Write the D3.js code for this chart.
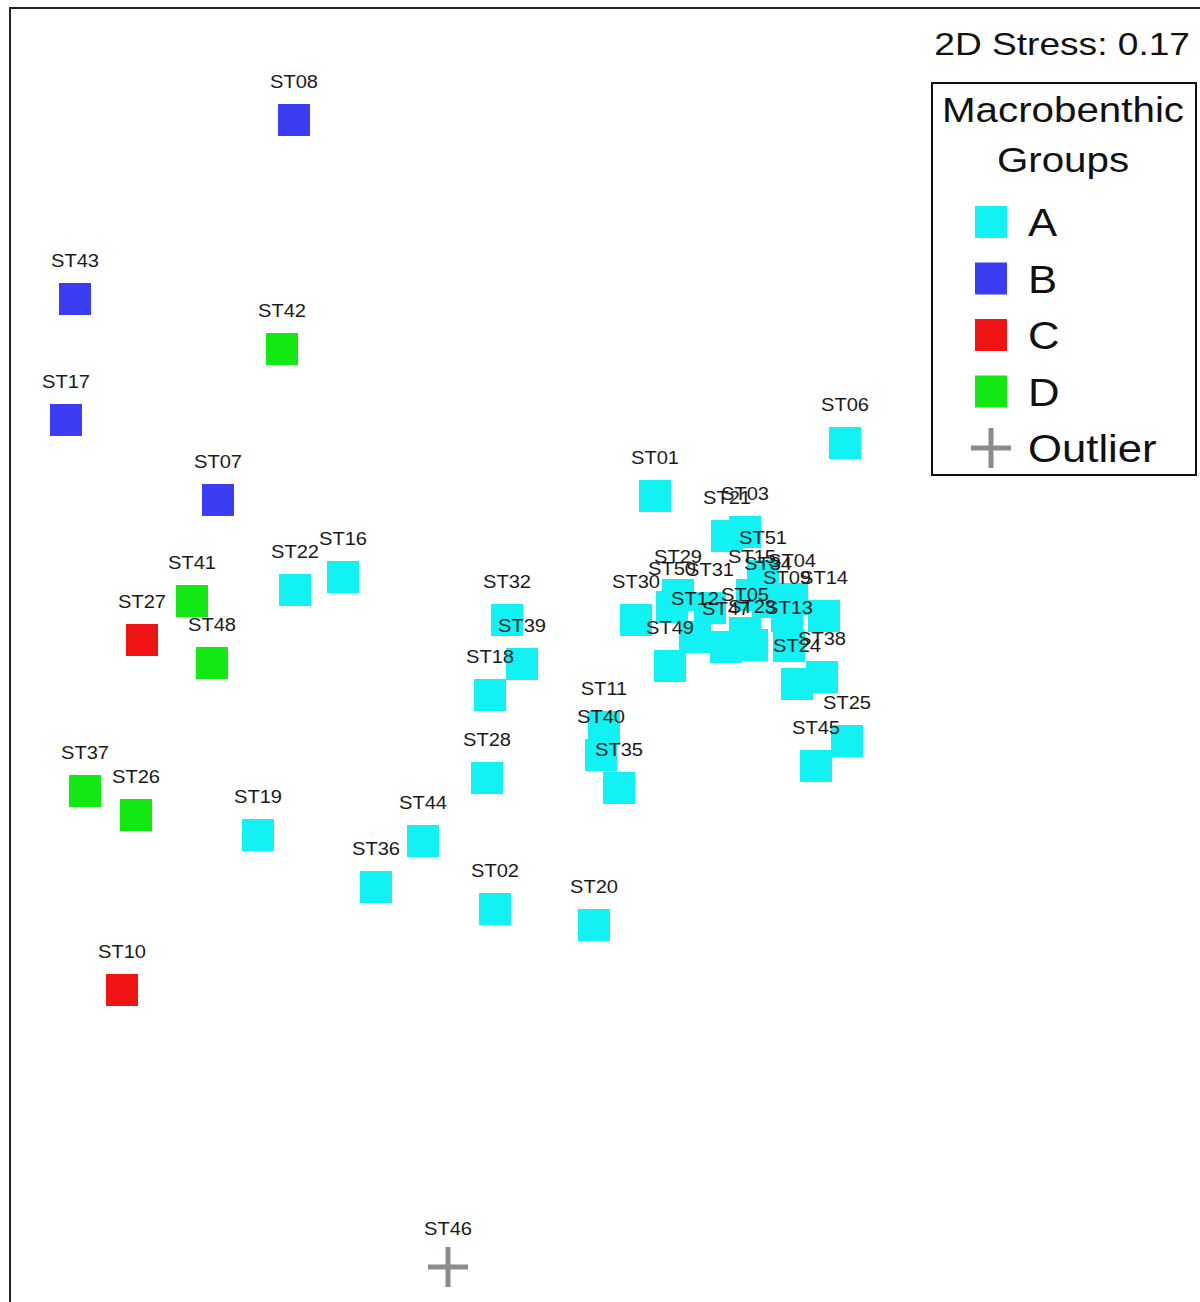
<!DOCTYPE html>
<html>
<head>
<meta charset="utf-8">
<script src="https://cdn.jsdelivr.net/npm/d3@7"></script>
<style>
  html, body { margin: 0; padding: 0; background: #fff; }
  svg { display: block; font-family: "Liberation Sans", Arial, sans-serif; }
</style>
</head>
<body>
<svg id="chart" width="1200" height="1302"></svg>
<script>
// nMDS ordination of macrobenthic stations (arbitrary MDS units)
const stations = ["ST08","ST43","ST17","ST07",
  "ST42","ST41","ST48","ST37","ST26",
  "ST27","ST10",
  "ST46",
  "ST06","ST01","ST22","ST16","ST32","ST39","ST18","ST28","ST19","ST44","ST36","ST02","ST20",
  "ST11","ST40","ST35","ST45","ST25","ST38","ST24","ST14","ST09","ST13","ST04","ST34","ST15",
  "ST51","ST21","ST03","ST29","ST50","ST31","ST30","ST12","ST05","ST47","ST23","ST49"];
const groups = ["B","B","B","B",
  "D","D","D","D","D",
  "C","C",
  "Outlier",
  "A","A","A","A","A","A","A","A","A","A","A","A","A",
  "A","A","A","A","A","A","A","A","A","A","A","A","A",
  "A","A","A","A","A","A","A","A","A","A","A","A"];
const mds1 = [-3.06,-5.25,-5.34,-3.82,
  -3.18,-4.08,-3.88,-5.15,-4.64,
  -4.58,-4.78,
  -1.52,
  2.45,0.55,-3.05,-2.57,-0.93,-0.78,-1.10,-1.13,-3.42,-1.77,-2.24,-1.05,-0.06,
  0.04,0.01,0.19,2.16,2.47,2.22,1.97,2.24,1.87,1.89,1.92,1.68,1.52,
  1.63,1.27,1.45,0.78,0.72,1.10,0.36,0.95,1.45,1.26,1.52,0.70];
const mds2 = [5.30,3.51,2.30,1.50,
  3.01,0.49,-0.13,-1.41,-1.65,
  0.10,-3.40,
  -6.17,
  2.07,1.54,0.60,0.73,0.30,-0.14,-0.45,-1.28,-1.85,-1.91,-2.37,-2.59,-2.75,
  -0.77,-1.05,-1.38,-1.16,-0.91,-0.27,-0.34,0.34,0.34,0.04,0.51,0.48,0.55,
  0.74,1.14,1.18,0.55,0.43,0.42,0.30,0.13,0.17,0.03,0.05,-0.16];

const legendGroups = ["A","B","C","D","Outlier"];
const groupColors = ["#12f2f2","#3c3cf2","#f01414","#12e812","#8c8c8c"];
const stressText = "2D Stress: 0.17";
const legendTitle = ["Macrobenthic","Groups"];

const points = stations.map((s, i) => ({ name: s, group: groups[i], x: mds1[i], y: mds2[i] }));

const svg = d3.select("#chart");
const x = d3.scaleLinear().domain([-6, 3]).range([0, 900]);
const y = d3.scaleLinear().domain([-7, 7]).range([1350, -50]);
const color = d3.scaleOrdinal().domain(legendGroups).range(groupColors);

const SQ = 32;

// plot frame
svg.append("rect")
  .attr("x", 10).attr("y", 8)
  .attr("width", 1200).attr("height", 1320)
  .attr("fill", "none").attr("stroke", "#222").attr("stroke-width", 2);

// station markers
const squares = points.filter(d => d.group !== "Outlier");
svg.append("g").selectAll("rect")
  .data(squares).join("rect")
  .attr("x", d => x(d.x) - SQ / 2)
  .attr("y", d => y(d.y) - SQ / 2)
  .attr("width", SQ).attr("height", SQ)
  .attr("fill", d => color(d.group));

const plus = points.filter(d => d.group === "Outlier");
const plusG = svg.append("g").selectAll("g").data(plus).join("g")
  .attr("transform", d => `translate(${x(d.x)},${y(d.y)})`);
plusG.append("line").attr("x1", -20).attr("x2", 20).attr("y1", 0).attr("y2", 0)
  .attr("stroke", color("Outlier")).attr("stroke-width", 5);
plusG.append("line").attr("x1", 0).attr("x2", 0).attr("y1", -20).attr("y2", 20)
  .attr("stroke", color("Outlier")).attr("stroke-width", 5);

// station labels above each marker
svg.append("g").selectAll("g")
  .data(points).join("g")
  .attr("transform", d => `translate(${x(d.x)},${y(d.y) - 32})`)
  .append("text")
  .attr("transform", "scale(1.06,1)")
  .attr("text-anchor", "middle")
  .attr("font-size", 19)
  .attr("fill", "#1a1a1a")
  .text(d => d.name);

// stress value
svg.append("g").attr("transform", "translate(1190,55)")
  .append("text")
  .attr("transform", "scale(1.16,1)")
  .attr("text-anchor", "end")
  .attr("font-size", 32)
  .attr("fill", "#111")
  .text(stressText);

// legend
const legend = svg.append("g");
legend.append("rect")
  .attr("x", 932).attr("y", 83)
  .attr("width", 264).attr("height", 392)
  .attr("fill", "#fff").attr("stroke", "#111").attr("stroke-width", 2);

legend.selectAll("g.title").data(legendTitle).join("g")
  .attr("class", "title")
  .attr("transform", (d, i) => `translate(1063,${122 + i * 50})`)
  .append("text")
  .attr("transform", "scale(1.12,1)")
  .attr("text-anchor", "middle")
  .attr("font-size", 36)
  .attr("fill", "#111")
  .text(d => d);

const items = legend.selectAll("g.item").data(legendGroups).join("g")
  .attr("class", "item")
  .attr("transform", (d, i) => `translate(991,${222 + i * 56.5})`);

items.filter(d => d !== "Outlier").append("rect")
  .attr("x", -SQ / 2).attr("y", -SQ / 2)
  .attr("width", SQ).attr("height", SQ)
  .attr("fill", d => color(d));

const lp = items.filter(d => d === "Outlier");
lp.append("line").attr("x1", -20).attr("x2", 20).attr("y1", 0).attr("y2", 0)
  .attr("stroke", color("Outlier")).attr("stroke-width", 5);
lp.append("line").attr("x1", 0).attr("x2", 0).attr("y1", -20).attr("y2", 20)
  .attr("stroke", color("Outlier")).attr("stroke-width", 5);

items.append("text")
  .attr("transform", "translate(37,14) scale(1.12,1)")
  .attr("font-size", 39)
  .attr("fill", "#111")
  .text(d => d);
</script>
</body>
</html>
